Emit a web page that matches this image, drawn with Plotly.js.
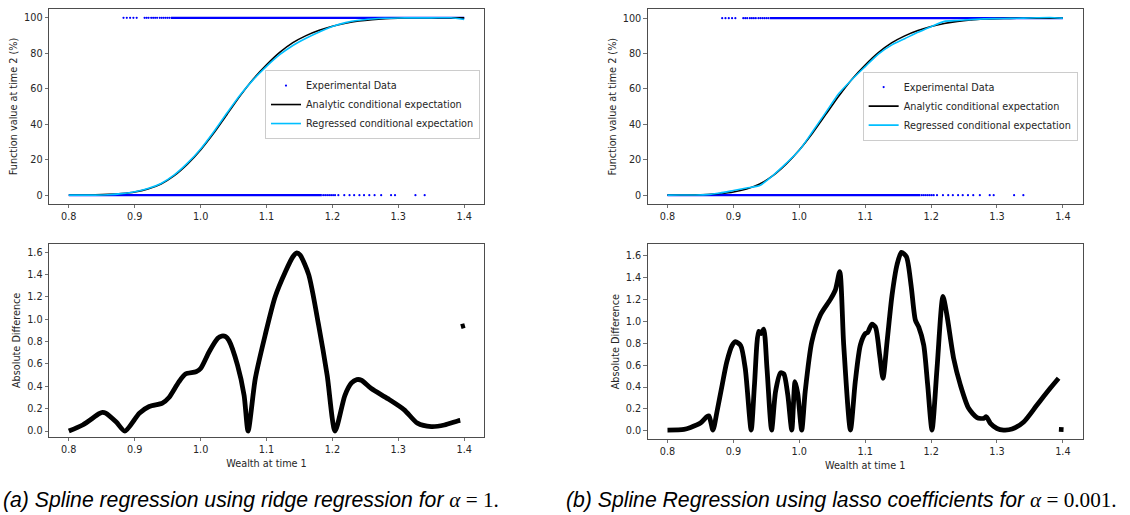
<!DOCTYPE html>
<html>
<head>
<meta charset="utf-8">
<script src="https://cdn.plot.ly/plotly-3.0.1.min.js"></script>
<style>
  html, body { margin: 0; padding: 0; background: #ffffff; }
  #chart { width: 1130px; height: 515px; }
</style>
</head>
<body>
<div id="chart"></div>
<script>
// ---------- data ----------
// wealth grid for the conditional-expectation curves
const wealthGrid = [0.80, 0.82, 0.84, 0.86, 0.88, 0.90, 0.92, 0.94, 0.96, 0.98,
                    1.00, 1.02, 1.04, 1.06, 1.08, 1.10, 1.12, 1.14, 1.16, 1.18,
                    1.20, 1.22, 1.24, 1.26, 1.28, 1.30, 1.32, 1.34, 1.36, 1.38, 1.40];
const analyticPct = [0, 0.05, 0.15, 0.4, 0.9, 1.8, 3.5, 6.3, 11, 17.5,
                     25.5, 35, 45.5, 56, 65.5, 73.5, 80.5, 86, 90, 93,
                     95.3, 97, 98.2, 99, 99.5, 99.75, 99.9, 99.95, 100, 100, 100];
const ridgeRegressedPct = [0, 0.0, 0.02, 0.25, 0.87, 1.92, 3.71, 6.55, 11.38, 18.02,
                           26.06, 35.79, 46.33, 56.48, 65.15, 72.6, 79.2, 84.44, 88.53, 92.08,
                           95.15, 97.33, 98.66, 99.38, 99.8, 99.96, 100.01, 100.0, 100.05, 100.07, 99.06];
const lassoRegressedPct = [0, 0.04, 0.105, 0.27, 1.22, 2.6, 4.0, 5.4, 11.1, 17.92,
                           25.35, 35.83, 46.64, 57.42, 65.38, 72.61, 79.73, 84.78, 88.39, 92.04,
                           95.2, 98.2, 98.72, 99.2, 99.62, 99.77, 99.89, 100.03, 100.23, 100.38, 100.01];

// experimental data (outcomes are either 0 % or 100 %)
const expLowLevel = 0;
const expHighLevel = 100;
const expLowDenseRange = [0.800, 1.184];      // densely filled stretch at 0 %
const expHighDenseRange = [0.955, 1.400];     // densely filled stretch at 100 %
const expLowSparseX = [1.186, 1.189, 1.192, 1.195, 1.198, 1.201, 1.204,
                       1.209, 1.218, 1.226, 1.233, 1.241, 1.248, 1.256, 1.264,
                       1.274, 1.289, 1.295, 1.326, 1.340];
const expHighSparseX = [0.883, 0.888, 0.893, 0.898, 0.903,
                        0.915, 0.918, 0.921, 0.925, 0.928, 0.931, 0.934,
                        0.938, 0.941, 0.944, 0.947, 0.950, 0.953];

// absolute difference, ridge (alpha = 1)
const ridgeDiffX = [0.800, 0.821, 0.846, 0.851, 0.856, 0.872, 0.885, 0.907, 0.922, 0.942, 0.952,
                    0.967, 0.977, 0.993, 1.000, 1.013, 1.026, 1.032, 1.038, 1.043, 1.056, 1.066, 1.072,
                    1.083, 1.098, 1.113, 1.129, 1.140, 1.146, 1.151, 1.164, 1.179, 1.192, 1.204,
                    1.219, 1.229, 1.237, 1.244, 1.259, 1.284, 1.309, 1.329, 1.350, 1.370, 1.390, 1.394,
                    null, 1.395, 1.401];
const ridgeDiffY = [0.0, 0.054, 0.155, 0.167, 0.16, 0.08, 0.0, 0.16, 0.22, 0.25, 0.30,
                    0.44, 0.51, 0.53, 0.56, 0.71, 0.83, 0.85, 0.845, 0.81, 0.59, 0.32, 0.0,
                    0.47, 0.86, 1.20, 1.43, 1.56, 1.595, 1.575, 1.40, 0.95, 0.50, 0.0,
                    0.32, 0.43, 0.46, 0.455, 0.38, 0.29, 0.19, 0.07, 0.04, 0.054, 0.09, 0.095,
                    null, 0.935, 0.945];

// absolute difference, lasso (alpha = 0.001)
const lassoDiffX = [0.800, 0.825, 0.835, 0.850, 0.860, 0.863, 0.869, 0.875, 0.883, 0.890,
                    0.898, 0.903, 0.911, 0.918, 0.927, 0.932, 0.9385, 0.942, 0.946, 0.951,
                    0.958, 0.964, 0.9715, 0.9765, 0.9825, 0.9886, 0.9936, 0.9977, 1.0037, 1.009,
                    1.019, 1.032, 1.047, 1.0548, 1.0614, 1.0674, 1.0776, 1.085, 1.0927, 1.1003,
                    1.1038, 1.110, 1.1155, 1.122, 1.127, 1.1332, 1.1407, 1.1483, 1.1549, 1.1625,
                    1.1696, 1.1761, 1.1812, 1.1888, 1.1948, 1.2014, 1.209, 1.218, 1.224, 1.2343,
                    1.2444, 1.257, 1.2697, 1.2798, 1.2838, 1.290, 1.300, 1.310, 1.3228, 1.3405,
                    1.3607, 1.381, 1.3935, null, 1.394, 1.401];
const lassoDiffY = [0.006, 0.012, 0.03, 0.07, 0.13, 0.135, 0.006, 0.17, 0.42, 0.63,
                    0.78, 0.815, 0.78, 0.57, 0.006, 0.42, 0.91, 0.89, 0.93, 0.57,
                    0.006, 0.36, 0.53, 0.52, 0.33, 0.006, 0.45, 0.34, 0.006, 0.36,
                    0.815, 1.06, 1.20, 1.29, 1.456, 0.785, 0.006, 0.45, 0.785, 0.89,
                    0.90, 0.975, 0.95, 0.69, 0.48, 0.815, 1.24, 1.52, 1.634, 1.594,
                    1.334, 1.014, 0.95, 0.785, 0.42, 0.006, 0.57, 1.23, 1.06, 0.66,
                    0.42, 0.205, 0.12, 0.113, 0.128, 0.067, 0.02, 0.006, 0.015, 0.08,
                    0.235, 0.39, 0.48, null, 0.012, 0.010];

// tick labels
const wealthTicks = [0.8, 0.9, 1.0, 1.1, 1.2, 1.3, 1.4];
const pctTicks = [0, 20, 40, 60, 80, 100];
const diffTicks = [0.0, 0.2, 0.4, 0.6, 0.8, 1.0, 1.2, 1.4, 1.6];

// ---------- styling ----------
const BLUE = '#0000ff';
const CYAN = '#00bfff';
const FONT = 'DejaVu Sans, sans-serif';
const TXT = '#262626';
const AX = '#4d4d4d';

function xAxis(domain, anchor, title) {
  const a = {
    domain: domain, anchor: anchor, range: [0.77, 1.43],
    tickmode: 'array', tickvals: wealthTicks,
    ticktext: wealthTicks.map(v => v.toFixed(1)),
    ticks: 'outside', ticklen: 3.5, tickwidth: 0.8, tickcolor: AX,
    showline: true, mirror: true, linecolor: AX, linewidth: 1,
    showgrid: false, zeroline: false, automargin: false,
    tickfont: {family: FONT, size: 9.7, color: TXT}
  };
  if (title) a.title = {text: title, font: {family: FONT, size: 9.7, color: TXT}, standoff: 6};
  return a;
}
function yAxis(domain, anchor, range, ticks, dec, title) {
  return {
    domain: domain, anchor: anchor, range: range,
    tickmode: 'array', tickvals: ticks,
    ticktext: ticks.map(v => v.toFixed(dec)),
    ticks: 'outside', ticklen: 3.5, tickwidth: 0.8, tickcolor: AX,
    showline: true, mirror: true, linecolor: AX, linewidth: 1,
    showgrid: false, zeroline: false, automargin: false,
    tickfont: {family: FONT, size: 9.7, color: TXT},
    title: {text: title, font: {family: FONT, size: 9.7, color: TXT}, standoff: 4}
  };
}

function topTraces(xa, ya, legendId, regressed) {
  return [
    { x: expLowSparseX.concat(expHighSparseX),
      y: expLowSparseX.map(() => expLowLevel).concat(expHighSparseX.map(() => expHighLevel)),
      type: 'scatter', mode: 'markers', name: 'Experimental Data',
      marker: {color: BLUE, size: 2.2}, xaxis: xa, yaxis: ya,
      legend: legendId, legendgroup: legendId + 'exp', hoverinfo: 'skip' },
    { x: [expLowDenseRange[0], expLowDenseRange[1], null, expHighDenseRange[0], expHighDenseRange[1]],
      y: [expLowLevel, expLowLevel, null, expHighLevel, expHighLevel],
      type: 'scatter', mode: 'lines', showlegend: false,
      line: {color: BLUE, width: 2.2}, xaxis: xa, yaxis: ya,
      legend: legendId, legendgroup: legendId + 'exp', hoverinfo: 'skip' },
    { x: wealthGrid, y: analyticPct, type: 'scatter', mode: 'lines',
      name: 'Analytic conditional expectation', line: {color: '#000000', width: 1.6, shape: 'spline', smoothing: 0.6},
      xaxis: xa, yaxis: ya, legend: legendId },
    { x: wealthGrid, y: regressed, type: 'scatter', mode: 'lines',
      name: 'Regressed conditional expectation', line: {color: CYAN, width: 1.6, shape: 'spline', smoothing: 0.6},
      xaxis: xa, yaxis: ya, legend: legendId }
  ];
}

const diffLine = {color: '#000000', width: 4.8, shape: 'spline', smoothing: 0.7};

const data = []
  .concat(topTraces('x', 'y', 'legend', ridgeRegressedPct))
  .concat([{ x: ridgeDiffX, y: ridgeDiffY, type: 'scatter', mode: 'lines',
             line: diffLine, xaxis: 'x2', yaxis: 'y2',
             showlegend: false, connectgaps: false }])
  .concat(topTraces('x3', 'y3', 'legend2', lassoRegressedPct))
  .concat([{ x: lassoDiffX, y: lassoDiffY, type: 'scatter', mode: 'lines',
             line: diffLine, xaxis: 'x4', yaxis: 'y4',
             showlegend: false, connectgaps: false }]);

const legendStyle = (x, y) => ({
  x: x, y: y, xanchor: 'left', yanchor: 'top',
  bgcolor: 'rgba(255,255,255,0.85)', bordercolor: '#cccccc', borderwidth: 1,
  font: {family: FONT, size: 9.7, color: TXT}, tracegroupgap: 0, itemwidth: 30
});

const capFont = {family: 'Liberation Sans, Arial, sans-serif', size: 21.2, color: '#000000'};
const serif = "font-family:'Liberation Serif', 'DejaVu Serif', serif";

const layout = {
  width: 1130, height: 515,
  margin: {l: 0, r: 0, t: 0, b: 0},
  paper_bgcolor: '#ffffff', plot_bgcolor: '#ffffff',
  showlegend: true,
  xaxis: xAxis([0.0434, 0.4283], 'y'),
  yaxis: yAxis([0.6039, 0.9825], 'x', [-5, 105], pctTicks, 0, 'Function value at time 2 (%)'),
  xaxis2: xAxis([0.0434, 0.4283], 'y2', 'Wealth at time 1'),
  yaxis2: yAxis([0.1520, 0.5262], 'x2', [-0.051, 1.674], diffTicks, 1, 'Absolute Difference'),
  xaxis3: xAxis([0.5732, 0.9581], 'y3'),
  yaxis3: yAxis([0.6039, 0.9819], 'x3', [-5, 105], pctTicks, 0, 'Function value at time 2 (%)'),
  xaxis4: xAxis([0.5732, 0.9581], 'y4', 'Wealth at time 1'),
  yaxis4: yAxis([0.1476, 0.5256], 'x4', [-0.076, 1.707], diffTicks, 1, 'Absolute Difference'),
  legend: legendStyle(0.2345, 0.864),
  legend2: legendStyle(0.7634, 0.861),
  annotations: [
    { xref: 'paper', yref: 'paper', x: 0.001, y: 0.029, xanchor: 'left', yanchor: 'middle',
      showarrow: false, font: capFont,
      text: "<i>(a) Spline regression using ridge regression for </i><span style=\"" + serif + "\"><i>α</i> = 1.</span>" },
    { xref: 'paper', yref: 'paper', x: 0.4995, y: 0.029, xanchor: 'left', yanchor: 'middle',
      showarrow: false, font: capFont,
      text: "<i>(b) Spline Regression using lasso coefficients for </i><span style=\"" + serif + "\"><i>α</i> = 0.001.</span>" }
  ]
};

Plotly.newPlot('chart', data, layout, {staticPlot: true, displayModeBar: false});
</script>
</body>
</html>
